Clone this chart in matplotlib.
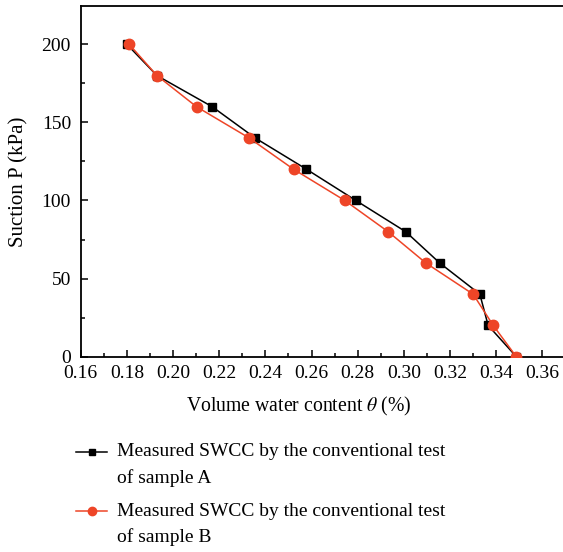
import matplotlib
matplotlib.use("Agg")
import matplotlib.pyplot as plt
from matplotlib.lines import Line2D
from matplotlib.ticker import MultipleLocator, FormatStrFormatter

plt.rcParams["font.family"] = "Liberation Serif"
plt.rcParams["mathtext.fontset"] = "stix"

# suction (kPa)
suction = [200, 180, 160, 140, 120, 100, 80, 60, 40, 20, 0]
# volumetric water content
theta_a = [0.180, 0.193, 0.217, 0.2356, 0.2578, 0.2792, 0.3008, 0.3155, 0.3329, 0.3365, 0.3487]
theta_b = [0.181, 0.193, 0.2102, 0.233, 0.2522, 0.2744, 0.2932, 0.3095, 0.3300, 0.3387, 0.3487]

label_a = ["Measured SWCC by the conventional test", "of sample A"]
label_b = ["Measured SWCC by the conventional test", "of sample B"]

RED = "#ee4527"
W, H = 563, 552
FS = 14

fig = plt.figure(figsize=(W / 100, H / 100), dpi=100)
ax_w = 562.5 - 80.7
ax_h = 356.7 - 5.7
ax = fig.add_axes([80.7 / W, 1 - 356.7 / H, ax_w / W, ax_h / H])

ax.plot(theta_a, suction, color="black", lw=1.1, marker="s", ms=6, zorder=3)
ax.plot(theta_b, suction, color=RED, lw=1.1, marker="o", ms=7.5, zorder=4)

ax.set_xlim(0.16, 0.3687)
ax.set_ylim(0, 224.7)
ax.xaxis.set_major_locator(MultipleLocator(0.02))
ax.xaxis.set_minor_locator(MultipleLocator(0.01))
ax.yaxis.set_major_locator(MultipleLocator(50))
ax.yaxis.set_minor_locator(MultipleLocator(25))
ax.xaxis.set_major_formatter(FormatStrFormatter("%.2f"))
ax.tick_params(which="both", direction="in", labelsize=FS, width=1.1)
ax.tick_params(which="major", length=5)
ax.tick_params(which="minor", length=3)
ax.tick_params(axis="x", pad=6)
ax.tick_params(axis="y", pad=7)
ax.spines["right"].set_visible(False)
for s in ["left", "bottom", "top"]:
    ax.spines[s].set_linewidth(1.3)

ax.set_xlabel(r"Volume water content $\theta$ (%)", fontsize=14.2)
ax.xaxis.set_label_coords((299 - 80.7) / ax_w, -(395 - 356.7) / ax_h)
ax.set_ylabel("Suction P (kPa)", fontsize=15)
ax.yaxis.set_label_coords(-(80.7 - 28) / ax_w, (356.7 - 182) / ax_h)


# legend drawn under the axes
def legend_entry(y_px, color, marker, ms, lines):
    fy = 1 - y_px / H
    fig.add_artist(Line2D([76 / W, 107 / W], [fy, fy], transform=fig.transFigure,
                          color=color, lw=1.1))
    fig.add_artist(Line2D([91.5 / W], [fy], transform=fig.transFigure,
                          color=color, marker=marker, ms=ms, lw=0))
    for i, txt in enumerate(lines):
        fig.text(117 / W, 1 - (y_px + 26.5 * i) / H, txt, fontsize=FS, va="center", ha="left")


legend_entry(452, "black", "s", 5, label_a)
legend_entry(511, RED, "o", 6, label_b)

fig.savefig("out.png", dpi=100)
